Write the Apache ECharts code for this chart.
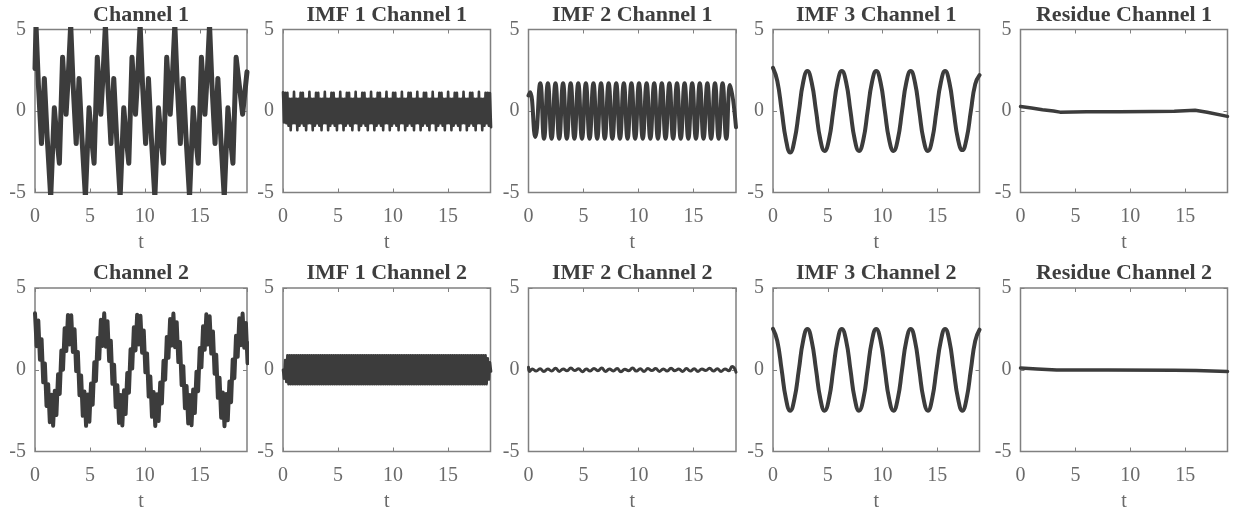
<!DOCTYPE html>
<html><head><meta charset="utf-8">
<script src="https://cdn.jsdelivr.net/npm/echarts@6/dist/echarts.min.js"></script>
<style>html,body{margin:0;padding:0;background:#fff}#c{width:1235px;height:517px}</style>
</head><body><div id="c"></div>
<script>
// ---------------- DATA ----------------
const titles = ['Channel 1','IMF 1 Channel 1','IMF 2 Channel 1','IMF 3 Channel 1','Residue Channel 1',
                'Channel 2','IMF 1 Channel 2','IMF 2 Channel 2','IMF 3 Channel 2','Residue Channel 2'];
const xAxisName = 't';
const yMin = -5, yMax = 5, yStep = 5;
const xStep = 5;
const xMaxChannel = 19.3;   // raw channel panels
const xMaxImf = 18.85;      // decomposition panels

// Channel 1 : traced vertices [t, value]
const channel1 = [[0,2.6],[0.09,5.3],[0.31,1.6],[0.59,-2.0],[0.85,2.0],[1.11,-1.6],[1.43,-5.3],[1.76,0.2],[2.01,-1.8],[2.22,-3.2],[2.51,3.3],[2.83,-0.2],[3.01,1.9],
[3.25,5.3],[3.47,1.6],[3.75,-2.0],[4.01,2.0],[4.27,-1.6],[4.59,-5.3],[4.92,0.2],[5.17,-1.8],[5.38,-3.2],[5.67,3.3],[5.99,-0.2],[6.17,1.9],
[6.41,5.3],[6.63,1.6],[6.91,-2.0],[7.17,2.0],[7.43,-1.6],[7.75,-5.3],[8.08,0.2],[8.33,-1.8],[8.54,-3.2],[8.83,3.3],[9.15,-0.2],[9.33,1.9],
[9.57,5.3],[9.79,1.6],[10.07,-2.0],[10.33,2.0],[10.59,-1.6],[10.91,-5.3],[11.24,0.2],[11.49,-1.8],[11.70,-3.2],[11.99,3.3],[12.31,-0.2],[12.49,1.9],
[12.73,5.3],[12.95,1.6],[13.23,-2.0],[13.49,2.0],[13.75,-1.6],[14.07,-5.3],[14.40,0.2],[14.65,-1.8],[14.86,-3.2],[15.15,3.3],[15.47,-0.2],[15.65,1.9],
[15.89,5.3],[16.11,1.6],[16.39,-2.0],[16.65,2.0],[16.91,-1.6],[17.23,-5.3],[17.56,0.2],[17.81,-1.8],[18.02,-3.2],[18.31,3.3],[18.90,-0.2],[19.3,2.4]];

// IMF 1 Channel 1 : fast oscillation, sampled every 0.1
const imf1Ch1Dt = 0.1;
const imf1Ch1 = [
1.15,-0.7,1.12,-0.75,1.12,-0.9,0.75,-1.18,0.75,-0.75,1.18,-0.75,0.75,-1.18,
0.75,-0.9,1.12,-0.75,1.12,-0.9,0.75,-1.18,0.75,-0.75,1.18,-0.75,0.75,-1.18,
0.75,-0.9,1.12,-0.75,1.12,-0.9,0.75,-1.18,0.75,-0.75,1.18,-0.75,0.75,-1.18,
0.75,-0.9,1.12,-0.75,1.12,-0.9,0.75,-1.18,0.75,-0.75,1.18,-0.75,0.75,-1.18,
0.75,-0.9,1.12,-0.75,1.12,-0.9,0.75,-1.18,0.75,-0.75,1.18,-0.75,0.75,-1.18,
0.75,-0.9,1.12,-0.75,1.12,-0.9,0.75,-1.18,0.75,-0.75,1.18,-0.75,0.75,-1.18,
0.75,-0.9,1.12,-0.75,1.12,-0.9,0.75,-1.18,0.75,-0.75,1.18,-0.75,0.75,-1.18,
0.75,-0.9,1.12,-0.75,1.12,-0.9,0.75,-1.18,0.75,-0.75,1.18,-0.75,0.75,-1.18,
0.75,-0.9,1.12,-0.75,1.12,-0.9,0.75,-1.18,0.75,-0.75,1.18,-0.75,0.75,-1.18,
0.75,-0.9,1.12,-0.75,1.12,-0.9,0.75,-1.18,0.75,-0.75,1.18,-0.75,0.75,-1.18,
0.75,-0.9,1.12,-0.75,1.12,-0.9,0.75,-1.18,0.75,-0.75,1.18,-0.75,0.75,-1.18,
0.75,-0.9,1.12,-0.75,1.12,-0.9,0.75,-1.18,0.75,-0.75,1.18,-0.75,0.75,-1.18,
0.75,-0.9,1.12,-0.75,1.12,-0.9,0.75,-1.18,0.75,-0.75,1.18,-0.75,0.75,-1.18,
0.75,-0.9,1.12,-0.75,1.12,-0.9,1.1,-1.0];

// IMF 2 Channel 1 : extrema [t, value]
const imf2Ch1 = [[0,0.95],[0.15,1.15],[0.62,-1.6],
[1.07,1.7],[1.41,-1.7],[1.76,1.7],[2.10,-1.7],[2.45,1.7],[2.79,-1.7],[3.14,1.7],[3.48,-1.7],[3.83,1.7],[4.17,-1.7],
[4.52,1.7],[4.86,-1.7],[5.21,1.7],[5.55,-1.7],[5.90,1.7],[6.24,-1.7],[6.59,1.7],[6.93,-1.7],[7.28,1.7],[7.62,-1.7],
[7.97,1.7],[8.31,-1.7],[8.66,1.7],[9.00,-1.7],[9.35,1.7],[9.69,-1.7],[10.04,1.7],[10.38,-1.7],[10.73,1.7],[11.07,-1.7],
[11.42,1.7],[11.76,-1.7],[12.11,1.7],[12.45,-1.7],[12.80,1.7],[13.14,-1.7],[13.49,1.7],[13.83,-1.7],[14.18,1.7],[14.52,-1.7],
[14.87,1.7],[15.21,-1.7],[15.56,1.7],[15.90,-1.7],[16.25,1.7],[16.59,-1.7],[16.94,1.7],[17.28,-1.7],[17.63,1.7],[17.97,-1.7],
[18.32,1.6],[18.85,-1.0]];

// IMF 3 (both channels) sampled at these times
const imf3T = [0,0.39,0.79,1.18,1.57,1.96,2.36,2.75,3.14,3.53,3.93,4.32,4.71,5.11,5.50,5.89,6.28,6.68,7.07,7.46,7.85,8.25,8.64,9.03,9.42,
9.82,10.21,10.60,11.00,11.39,11.78,12.17,12.57,12.96,13.35,13.74,14.14,14.53,14.92,15.32,15.71,16.10,16.49,16.89,17.28,17.67,18.06,18.46,18.85];
const imf3Ch1 = [2.65,1.85,0.05,-1.75,-2.55,-1.8,-0.05,1.75,2.45,1.75,0,-1.75,-2.45,-1.75,0,1.75,2.45,1.75,0,-1.75,-2.45,-1.75,0,1.75,2.45,
1.75,0,-1.75,-2.45,-1.75,0,1.75,2.45,1.75,0,-1.75,-2.45,-1.75,0,1.75,2.45,1.75,0,-1.75,-2.4,-1.7,0,1.65,2.2];
const imf3Ch2 = [2.5,1.77,0,-1.77,-2.5,-1.77,0,1.77,2.5,1.77,0,-1.77,-2.5,-1.77,0,1.77,2.5,1.77,0,-1.77,-2.5,-1.77,0,1.77,2.5,
1.77,0,-1.77,-2.5,-1.77,0,1.77,2.5,1.77,0,-1.77,-2.5,-1.77,0,1.77,2.5,1.77,0,-1.77,-2.5,-1.77,0,1.77,2.45];

// Residues [t, value]
const residueCh1 = [[0,0.28],[1,0.18],[2,0.08],[3,0.0],[3.6,-0.07],[6,-0.05],[9,-0.04],[12,-0.03],[14,-0.01],[15.9,0.04],[17,-0.08],[18.85,-0.33]];
const residueCh2 = [[0,0.1],[1.5,0.05],[3.3,-0.02],[8,-0.02],[14,-0.03],[16,-0.04],[18.85,-0.1]];

// Channel 2 : fast band around slow wave, sampled every 0.15
const channel2Dt = 0.15;
const channel2 = [3.45,1.44,3.01,0.61,1.86,-0.77,0.38,-2.21,-0.89,-3.21,-1.53,-3.42,-1.29,-2.77,-0.28,-1.48,1.17,0.00,2.54,1.14,
3.35,1.55,3.33,1.09,2.47,-0.08,1.09,-1.56,-0.35,-2.82,-1.33,-3.43,-1.51,-3.18,-0.84,-2.14,0.46,-0.69,1.94,0.67,
3.06,1.46,3.45,1.41,2.97,0.54,1.78,-0.86,0.30,-2.28,-0.95,-3.25,-1.54,-3.41,-1.26,-2.71,-0.20,-1.40,1.25,0.07,
2.60,1.18,3.37,1.55,3.30,1.04,2.40,-0.16,1.00,-1.64,-0.42,-2.88,-1.36,-3.44,-1.50,-3.13,-0.78,-2.06,0.55,-0.61,
2.01,0.73,3.10,1.48,3.44,1.38,2.91,0.47,1.70,-0.94,0.22,-2.35,-1.00,-3.28,-1.54,-3.39,-1.21,-2.65,-0.12,-1.31,
1.33,0.15,2.66,1.22,3.39,1.54,3.27,0.99,2.34,-0.24,0.92,-1.72,-0.49,-2.93,-1.39,-3.45,-1.48,-3.09,-0.72,-1.99,
0.63,-0.52,2.08,0.79,3.15,1.50,3.44,1.35,2.86,0.40,1.62];

// IMF 1 Channel 2 : fast oscillation, sampled every 0.1
const imf1Ch2Dt = 0.1;
const imf1Ch2 = [0.0,-0.55,0.6,-0.75,0.88,-0.88,
0.88,-0.88,0.88,-0.88,0.88,-0.88,0.88,-0.88,0.88,-0.88,0.88,-0.88,0.88,-0.88,0.88,-0.88,0.88,-0.88,0.88,-0.88,0.88,-0.88,0.88,-0.88,
0.88,-0.88,0.88,-0.88,0.88,-0.88,0.88,-0.88,0.88,-0.88,0.88,-0.88,0.88,-0.88,0.88,-0.88,0.88,-0.88,0.88,-0.88,0.88,-0.88,0.88,-0.88,
0.88,-0.88,0.88,-0.88,0.88,-0.88,0.88,-0.88,0.88,-0.88,0.88,-0.88,0.88,-0.88,0.88,-0.88,0.88,-0.88,0.88,-0.88,0.88,-0.88,0.88,-0.88,
0.88,-0.88,0.88,-0.88,0.88,-0.88,0.88,-0.88,0.88,-0.88,0.88,-0.88,0.88,-0.88,0.88,-0.88,0.88,-0.88,0.88,-0.88,0.88,-0.88,0.88,-0.88,
0.88,-0.88,0.88,-0.88,0.88,-0.88,0.88,-0.88,0.88,-0.88,0.88,-0.88,0.88,-0.88,0.88,-0.88,0.88,-0.88,0.88,-0.88,0.88,-0.88,0.88,-0.88,
0.88,-0.88,0.88,-0.88,0.88,-0.88,0.88,-0.88,0.88,-0.88,0.88,-0.88,0.88,-0.88,0.88,-0.88,0.88,-0.88,0.88,-0.88,0.88,-0.88,0.88,-0.88,
0.88,-0.88,0.88,-0.88,0.88,-0.88,0.88,-0.88,0.88,-0.88,0.88,-0.88,0.88,-0.88,0.88,-0.88,0.88,-0.88,0.88,-0.88,0.88,-0.88,0.88,-0.88,
0.88,-0.88,0.88,-0.88,0.88,-0.88,0.88,-0.88,0.88,-0.88,0.88,-0.88,
0.7,-0.6,0.45,-0.1];

// IMF 2 Channel 2 : small wiggle [t, value]
const imf2Ch2 = [[0,0.15],[0.1,-0.1],[0.35,0.05],[0.7,-0.08],[1.05,0.06],[1.4,-0.1],[1.75,0.04],[2.1,-0.07],[2.45,0.09],[2.8,-0.1],
[3.15,0.05],[3.5,-0.06],[3.85,0.1],[4.2,-0.05],[4.55,0.06],[4.9,-0.12],[5.25,0.04],[5.6,-0.08],[5.95,0.08],[6.3,-0.06],
[6.65,0.1],[7.0,-0.1],[7.35,0.05],[7.7,-0.07],[8.05,0.07],[8.4,-0.12],[8.75,0.03],[9.1,-0.06],[9.45,0.1],[9.8,-0.08],
[10.15,0.06],[10.5,-0.1],[10.85,0.08],[11.2,-0.05],[11.55,0.07],[11.9,-0.1],[12.25,0.05],[12.6,-0.08],[12.95,0.09],[13.3,-0.06],
[13.65,0.04],[14.0,-0.1],[14.35,0.07],[14.7,-0.08],[15.05,0.06],[15.4,-0.1],[15.75,0.05],[16.1,-0.05],[16.45,0.09],[16.8,-0.08],
[17.15,0.06],[17.5,-0.1],[17.85,0.05],[18.2,-0.06],[18.5,0.2],[18.7,0.1],[18.85,-0.15]];

// ---------------- BUILD ----------------
function sampled(values, dt){ return values.map((v,i)=>[+(i*dt).toFixed(3), v]); }
function paired(ts, vs){ return ts.map((t,i)=>[t, vs[i]]); }

const panels = [
  {data: channel1, w: 5, smooth: false, xMax: xMaxChannel},
  {data: sampled(imf1Ch1, imf1Ch1Dt), w: 2.6, smooth: false, xMax: xMaxImf},
  {data: imf2Ch1, w: 4, smooth: true, xMax: xMaxImf},
  {data: paired(imf3T, imf3Ch1), w: 4, smooth: true, xMax: xMaxImf},
  {data: residueCh1, w: 3.5, smooth: false, xMax: xMaxImf},
  {data: sampled(channel2, channel2Dt), w: 4, smooth: false, xMax: xMaxChannel},
  {data: sampled(imf1Ch2, imf1Ch2Dt), w: 2.6, smooth: false, xMax: xMaxImf},
  {data: imf2Ch2, w: 3, smooth: true, xMax: xMaxImf},
  {data: paired(imf3T, imf3Ch2), w: 4, smooth: true, xMax: xMaxImf},
  {data: residueCh2, w: 3.5, smooth: false, xMax: xMaxImf}
];

const colLeft = [35, 283, 528.5, 773, 1020.5];
const colWidth = [212, 207.5, 207.5, 206.5, 207];
const rowTop = [29.5, 288];
const rowHeight = [163, 163.5];
const titleTop = [4, 262];

const FONT = "'Liberation Serif','Times New Roman',serif";
const LINE = '#3c3c3c', BORDER = '#808080', LABEL = '#6a6a6a', TITLE = '#3e3e3e';

const grid = [], xAxis = [], yAxis = [], series = [], title = [];
panels.forEach((p, i) => {
  const r = Math.floor(i / 5), c = i % 5;
  grid.push({left: colLeft[c], top: rowTop[r], width: colWidth[c], height: rowHeight[r],
    show: true, borderColor: BORDER, borderWidth: 1.5, backgroundColor: '#fff', containLabel: false});
  title.push({text: titles[i], left: colLeft[c] + colWidth[c] / 2, top: titleTop[r], textAlign: 'center', padding: 0,
    textStyle: {fontFamily: FONT, fontWeight: 'bold', fontSize: 22, color: TITLE}});
  const tick = {show: true, inside: true, length: 4, lineStyle: {color: BORDER, width: 1}};
  const noLine = {show: false, onZero: false};
  xAxis.push({gridIndex: i, type: 'value', position: 'bottom', min: 0, max: p.xMax, interval: xStep,
    axisLine: noLine, axisTick: tick, splitLine: {show: false},
    axisLabel: {show: true, fontFamily: FONT, fontSize: 20, color: LABEL, margin: 14, showMaxLabel: false},
    name: xAxisName, nameLocation: 'middle', nameGap: 40,
    nameTextStyle: {fontFamily: FONT, fontSize: 20, color: LABEL}});
  xAxis.push({gridIndex: i, type: 'value', position: 'top', min: 0, max: p.xMax, interval: xStep,
    axisLine: noLine, axisTick: tick, splitLine: {show: false}, axisLabel: {show: false}});
  yAxis.push({gridIndex: i, type: 'value', position: 'left', min: yMin, max: yMax, interval: yStep,
    axisLine: noLine, axisTick: tick, splitLine: {show: false},
    axisLabel: {show: true, fontFamily: FONT, fontSize: 20, color: LABEL, margin: 9, padding: [4, 0, 0, 0]}});
  yAxis.push({gridIndex: i, type: 'value', position: 'right', min: yMin, max: yMax, interval: yStep,
    axisLine: noLine, axisTick: tick, splitLine: {show: false}, axisLabel: {show: false}});
  series.push({type: 'line', xAxisIndex: 2 * i, yAxisIndex: 2 * i, data: p.data, smooth: p.smooth,
    symbol: 'none', showSymbol: false, clip: true,
    lineStyle: {color: LINE, width: p.w, join: 'round', cap: 'round'}});
});

const chart = echarts.init(document.getElementById('c'), null, {renderer: 'canvas'});
chart.setOption({animation: false, backgroundColor: '#fff', title, grid, xAxis, yAxis, series});
</script>
</body></html>
